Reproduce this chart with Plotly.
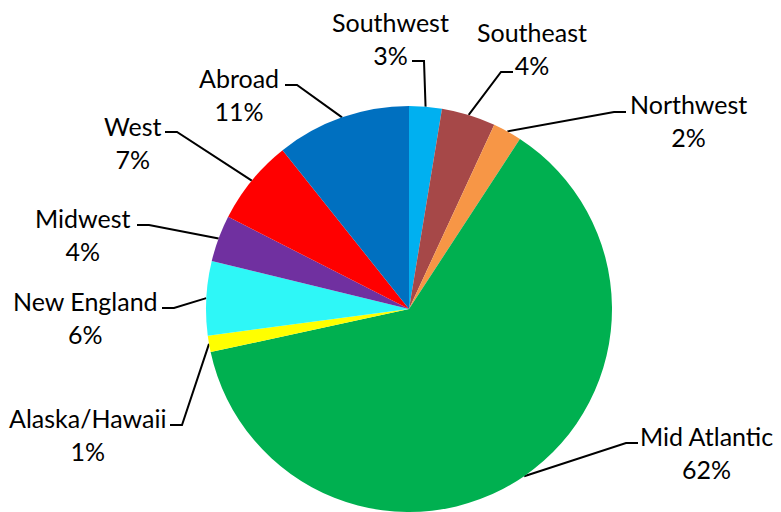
import math
import plotly.graph_objects as go

# ---------------- data ----------------
regions = ["Southwest", "Southeast", "Northwest", "Mid Atlantic", "Alaska/Hawaii",
           "New England", "Midwest", "West", "Abroad"]
shares = [2.6, 4.3, 2.3, 62.4, 1.3, 5.9, 3.7, 6.8, 10.7]
colors = ["#00B0F0", "#A64848", "#F79646", "#00B050", "#FFFF00",
          "#2EF7F7", "#7030A0", "#FF0000", "#0070C0"]

# ---------------- layout (window pixels) ----------------
W, H = 781, 512
OFF = 8  # page body margin: the figure is drawn 8px right/down of the window corner
FW, FH = W - OFF, H - OFF  # figure size that fits the window exactly
CX, CY, R = 409, 309, 203
# label block centres and leader-line end points (px, from top-left of window)
label_centres = [(390, 38), (532, 48), (688, 120), (706, 452), (87, 434),
                 (85, 317), (83, 234), (133, 142), (239, 94)]
leader_ends = [(412, 61), (513, 72), (626, 112), (638, 443), (170, 425),
               (162, 308), (137, 225), (165, 132), (285, 85)]
ELBOW = 12
FONT = dict(family="Lato", size=25, color="#000000")

fig = go.Figure()

fx0 = (CX - OFF - R) / FW
fx1 = (CX - OFF + R) / FW
fy1 = (FH - (CY - OFF - R)) / FH
fy0 = max(0.0, fy1 - 2 * R / FH)
fig.add_trace(go.Pie(
    labels=regions, values=shares, sort=False, direction="clockwise", rotation=0,
    marker=dict(colors=colors, line=dict(width=0)),
    textinfo="none", hoverinfo="label+percent", showlegend=False,
    domain=dict(x=[fx0, fx1], y=[fy0, fy1]),
))

total = sum(shares)
cum = 0.0
annotations = []
for name, v, (lx, ly), (ex, ey) in zip(regions, shares, label_centres, leader_ends):
    mid = (cum + v / 2) / total * 2 * math.pi
    cum += v
    sx = CX + R * math.sin(mid)
    sy = CY - R * math.cos(mid)
    d = 1 if ex > lx else -1
    bx = ex + d * ELBOW
    fig.add_trace(go.Scatter(
        x=[sx, bx, ex], y=[sy, ey, ey], mode="lines",
        line=dict(color="#000000", width=2), hoverinfo="skip", showlegend=False,
    ))
    pct = round(v / total * 100)
    annotations.append(dict(
        x=lx, y=ly, xref="x", yref="y", text=f"{name}<br>{pct}%",
        showarrow=False, font=FONT, align="center",
        xanchor="center", yanchor="middle",
    ))

fig.update_layout(
    width=FW, height=FH, margin=dict(l=0, r=0, t=0, b=0),
    paper_bgcolor="white", plot_bgcolor="rgba(0,0,0,0)",
    xaxis=dict(range=[OFF, W], visible=False, fixedrange=True, domain=[0, 1]),
    yaxis=dict(range=[H, OFF], visible=False, fixedrange=True, domain=[0, 1]),
    annotations=annotations, showlegend=False,
)

fig.write_html("out.html")
